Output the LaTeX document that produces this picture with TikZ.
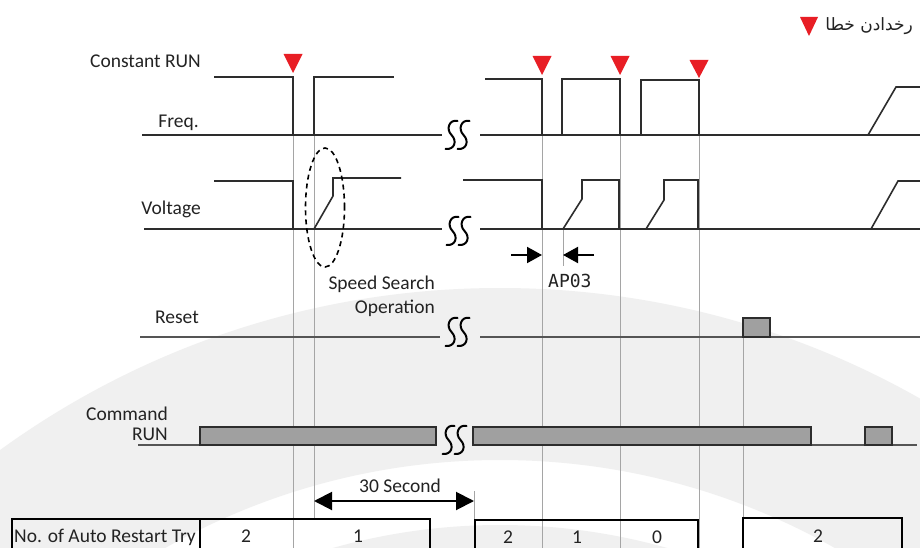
\documentclass[tikz,border=0pt]{standalone}
\usepackage{fontspec}
\setmainfont{Carlito}
\newfontfamily\arabicfont[Script=Arabic]{DejaVu Sans}
\newfontfamily\segfont{DejaVu Sans Mono}
\TeXXeTstate=1
\usetikzlibrary{arrows.meta}
\definecolor{wm}{RGB}{240,240,240}
\definecolor{sig}{RGB}{45,45,45}
\definecolor{base}{RGB}{85,85,85}
\definecolor{guide}{RGB}{165,165,165}
\definecolor{barfill}{RGB}{160,160,160}
\definecolor{trip}{RGB}{232,30,37}
\definecolor{txt}{RGB}{35,35,35}
\tikzset{
  sigline/.style={draw=sig, line width=1.6pt},
  baseline/.style={draw=base, line width=1.4pt},
  guideline/.style={draw=guide, line width=0.8pt},
  barbox/.style={fill=barfill, draw=sig, line width=1.4pt},
  tripmark/.style={fill=trip},
  lbl/.style={text=txt, inner sep=0pt, font=\fontsize{19.5}{22}\selectfont},
  tablebox/.style={draw=black, line width=2.5pt},
  dimarrow/.style={line width=2pt, draw=black},
  brk/.pic={
    \draw[line width=2pt, line cap=round] (-0.5,-14) .. controls (-8.5,-16) and (-12.5,-6) .. (-6.5,0) .. controls (-0.5,6) and (-3.5,15) .. (-12.5,14);
    \draw[line width=2pt, line cap=round] (11.5,-14) .. controls (3.5,-16) and (-0.5,-6) .. (5.5,0) .. controls (11.5,6) and (8.5,15) .. (-0.5,14);
  }
}
\newcommand{\tripat}[3]{\fill[tripmark] (#1-9.5,#2) -- (#1+9.5,#2) -- (#1,#2+#3) -- cycle;}
\begin{document}
\begin{tikzpicture}[x=1pt,y=-1pt]
\clip (0,0) rectangle (920,548);
\fill[white] (0,0) rectangle (920,548);
% watermark
\fill[wm, even odd rule] (500,1140) circle (852pt) (500,1140) circle (680pt);
\fill[wm] (500,1140) circle (615pt);

% guide lines
\draw[guideline] (293,77) -- (293,548);
\draw[guideline] (314,77) -- (314,519);
\draw[guideline] (542,79) -- (542,548);
\draw[guideline] (563,229) -- (563,266);
\draw[guideline] (620,79) -- (620,548);
\draw[guideline] (699,80) -- (699,548);
\draw[guideline] (743,318) -- (743,548);
\draw[guideline] (474,491) -- (474,548);

% legend
\fill[tripmark] (800,17) -- (818,17) -- (809,36) -- cycle;
\node[lbl, anchor=base east, font=\fontsize{17}{20}\selectfont] (legend) at (913,31) {\arabicfont\beginR رخدادن خطا\endR};

% labels
\node[lbl, anchor=base east] (lconst) at (201,68) {Constant RUN};
\node[lbl, anchor=base east] (lfreq) at (199,128) {Freq.};
\node[lbl, anchor=base east] (lvolt) at (201,214) {Voltage};
\node[lbl, anchor=base east] (lreset) at (199,323) {Reset};
\node[lbl, anchor=base east] (lcmd) at (168,420) {Command};
\node[lbl, anchor=base east] (lrun) at (168,440) {RUN};
\node[lbl, anchor=base east] (lss1) at (435,289) {Speed Search};
\node[lbl, anchor=base east] (lss2) at (435,313) {Operation};

% Freq
\draw[sigline] (142,135) -- (442,135);
\draw[sigline] (480,135) -- (920,135);
\draw[sigline] (214,77) -- (293,77) -- (293,135);
\draw[sigline] (314,135) -- (314,77) -- (394,77);
\draw[sigline] (485,79) -- (542,79) -- (542,135);
\draw[sigline] (562,135) -- (562,79) -- (620,79) -- (620,135);
\draw[sigline] (641,135) -- (641,80) -- (699,80) -- (699,135);
\draw[sigline] (868,135) -- (896,87) -- (920,87);
\pic at (458,135) {brk};

% trip markers
\tripat{293}{54}{19}
\tripat{542}{56}{19}
\tripat{620}{56}{19}
\tripat{699}{60}{18}

% Voltage
\draw[sigline] (144,229) -- (442,229);
\draw[sigline] (480,229) -- (920,229);
\draw[sigline] (214,181) -- (293,181) -- (293,229);
\draw[sigline] (314,229) -- (333,196) -- (333,178) -- (401,178);
\draw[sigline] (463,180) -- (542,180) -- (542,229);
\draw[sigline] (563,229) -- (582,199) -- (582,180) -- (619,180) -- (619,229);
\draw[sigline] (646,229) -- (664,200) -- (664,180) -- (698,180) -- (698,229);
\draw[sigline] (871,229) -- (898,181) -- (920,181);
\pic at (459,231) {brk};
\draw[line width=1.6pt, dash pattern=on 5pt off 4pt] (325,207.5) ellipse [x radius=19.5pt, y radius=59.5pt];

% AP03
\coordinate (ap1s) at (511,255);
\coordinate (ap1e) at (542,255);
\coordinate (ap2s) at (594,255);
\coordinate (ap2e) at (563,255);
\draw[dimarrow, -{Triangle[length=15pt,width=16pt]}] (ap1s) -- (ap1e);
\draw[dimarrow, -{Triangle[length=15pt,width=16pt]}] (ap2s) -- (ap2e);
\node[lbl, anchor=base west, font=\segfont\fontsize{18}{20}\selectfont] (lap) at (548,287) {AP03};

% Reset
\draw[baseline] (140,337) -- (440,337);
\draw[baseline] (480,337) -- (920,337);
\draw[barbox] (743,337) rectangle (770,318);
\pic at (458,332) {brk};

% Command RUN
\draw[baseline] (138,445) -- (200,445);
\draw[baseline] (811,445) -- (917,445);
\draw[barbox] (200,427) rectangle (436,445);
\draw[barbox] (473,427) rectangle (811,445);
\draw[barbox] (865,427) rectangle (892,445);
\pic at (455,440) {brk};

% 30 Second
\coordinate (s30a) at (314,501);
\coordinate (s30b) at (474,501);
\draw[dimarrow, {Triangle[length=18pt,width=18pt]}-{Triangle[length=18pt,width=18pt]}] (s30a) -- (s30b);
\node[lbl, anchor=base] (l30) at (400,492) {30 Second};

% tables
\draw[tablebox] (12,519) rectangle (430,570);
\draw[line width=1.5pt] (200,519) -- (200,548);
\draw[tablebox] (475,520) rectangle (698,570);
\draw[tablebox] (743,518) rectangle (902,570);
\node[lbl, anchor=base west] (tname) at (14,542) {No. of Auto Restart Try};
\node[lbl, anchor=base] (t1a) at (246,542) {2};
\node[lbl, anchor=base] (t1b) at (358,542) {1};
\node[lbl, anchor=base] (t2a) at (508,543) {2};
\node[lbl, anchor=base] (t2b) at (577,543) {1};
\node[lbl, anchor=base] (t2c) at (657,543) {0};
\node[lbl, anchor=base] (t3a) at (818,542) {2};
\end{tikzpicture}
\end{document}
